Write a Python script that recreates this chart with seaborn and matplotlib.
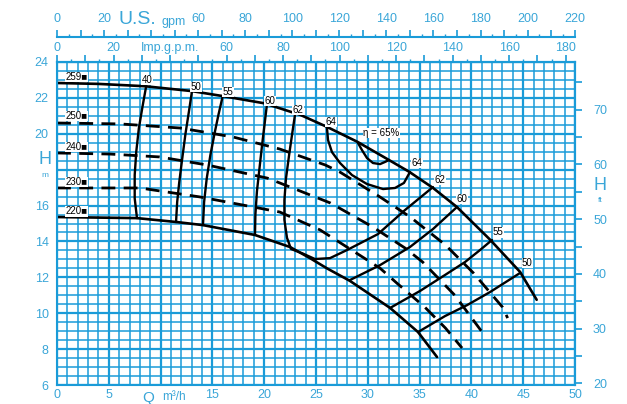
import matplotlib
matplotlib.use("Agg")
import matplotlib.pyplot as plt
from matplotlib.ticker import MultipleLocator, FuncFormatter
import seaborn as sns

# ---- values: Q in m3/h, H in m ----
# impeller diameter curves (solid = 259 and 220, dashed = 250/240/230)
q_259 = [0, 4, 8.5, 13, 16, 20, 23.5, 26, 29, 31.5, 34, 36.3, 38.6, 41.8, 44.7, 46.3]
h_259 = [22.83, 22.78, 22.65, 22.38, 22.1, 21.7, 21.05, 20.4, 19.55, 18.72, 17.88, 16.98, 15.92, 14.1, 12.3, 10.75]

q_220 = [0, 7.72, 11.58, 14.09, 19.11, 22.49, 24.42, 26.06, 28.28, 32.14, 34.85, 36.68]
h_220 = [15.36, 15.3, 15.08, 14.91, 14.36, 13.69, 13.07, 12.5, 11.8, 10.3, 8.95, 7.56]

q_250 = [0, 6.1, 11.9, 17.0, 21.5, 25.9, 27.3, 31.2, 34.1, 37.5, 40.2, 43.0, 43.5]
h_250 = [20.6, 20.55, 20.32, 19.82, 19.15, 18.26, 17.87, 16.47, 15.36, 13.8, 12.24, 10.34, 9.73]

q_240 = [0, 5.1, 9.9, 14.5, 20.3, 21.5, 26.4, 30.5, 33.6, 35.3, 38.4, 41.1]
h_240 = [18.93, 18.87, 18.71, 18.26, 17.53, 17.26, 16.14, 14.8, 13.63, 12.85, 11.0, 8.9]

q_230 = [0, 8.0, 13.8, 21.5, 25.4, 29.2, 31.2, 32.8, 35.5, 37.5, 39.1]
h_230 = [16.98, 16.98, 16.48, 15.64, 14.64, 13.24, 12.5, 11.68, 10.34, 9.17, 8.06]

# efficiency iso-lines
q_e40 = [8.6, 8.25, 7.9, 7.65, 7.5, 7.5, 7.72]
h_e40 = [22.63, 21.5, 20.3, 19.0, 17.7, 16.4, 15.3]

q_e50 = [13.03, 12.75, 12.4, 12.07, 11.8, 11.6, 11.49]
h_e50 = [22.38, 21.3, 20.0, 18.54, 17.3, 16.2, 15.08]

q_e55 = [16.02, 15.6, 15.2, 14.8, 14.45, 14.2, 14.09]
h_e55 = [22.16, 21.1, 20.0, 18.8, 17.5, 16.2, 14.91]

q_e60 = [20.27, 20.05, 19.8, 19.55, 19.3, 19.15, 19.11]
h_e60 = [21.66, 20.6, 19.4, 18.1, 16.8, 15.5, 14.36]

q_e62 = [22.97, 22.7, 22.4, 22.1, 21.95, 21.95, 22.2, 22.59, 23.75, 24.9, 26.35, 27.99, 30.98, 33.59, 36.29]
h_e62 = [21.05, 20.0, 18.8, 17.5, 16.3, 15.2, 14.2, 13.58, 13.32, 13.02, 13.07, 13.52, 14.41, 15.75, 17.03]

q_e64 = [26.06, 26.16, 26.54, 27.32, 28.47, 29.92, 31.47, 32.63, 33.49, 34.07]
h_e64 = [20.32, 19.65, 18.98, 18.37, 17.7, 17.2, 16.92, 16.98, 17.26, 17.87]

q_e65 = [29.05, 29.44, 29.92, 30.5, 31.18, 31.66, 32.05]
h_e65 = [19.49, 19.09, 18.65, 18.37, 18.31, 18.43, 18.54]

q_e60r = [28.28, 31.18, 34.07, 36.29, 38.61]
h_e60r = [11.85, 12.68, 13.69, 14.69, 15.92]

q_e55r = [32.14, 35.04, 37.45, 39.38, 40.83, 41.99]
h_e55r = [10.29, 11.24, 12.13, 12.85, 13.52, 14.08]

q_e50r = [34.85, 37.45, 39.58, 41.8, 44.69]
h_e50r = [8.95, 9.84, 10.45, 11.18, 12.24]

# labels on the curves
eff_labels = ["40", "50", "55", "60", "62", "64", "η = 65%", "64", "62", "60", "55", "50"]
eff_label_q = [8.69, 13.42, 16.5, 20.56, 23.26, 26.45, 31.3, 34.75, 37.0, 39.1, 42.6, 45.4]
eff_label_h = [23.0, 22.61, 22.33, 21.83, 21.32, 20.66, 20.04, 18.37, 17.42, 16.36, 14.52, 12.8]

dia_labels = ["259", "250", "240", "230", "220"]
dia_label_h = [23.16, 20.99, 19.26, 17.31, 15.69]

sns.set_style("white")
plt.rcParams["font.family"] = ["Liberation Sans", "DejaVu Sans"]

BLUE = "#1a9bd8"
TXT = "#3aa6d8"
W, Hpx = 627, 404

fig = plt.figure(figsize=(6.27, 4.04), dpi=100)
ax = fig.add_axes([57 / W, 1 - 385 / Hpx, (575 - 57) / W, (385 - 62) / Hpx])
ax.set_xlim(0, 50)
ax.set_ylim(6, 24)

# grid paper
ax.xaxis.set_major_locator(MultipleLocator(5))
ax.xaxis.set_minor_locator(MultipleLocator(1))
ax.yaxis.set_major_locator(MultipleLocator(2))
ax.yaxis.set_minor_locator(MultipleLocator(0.5))
ax.grid(which="minor", color=BLUE, lw=1.1)
ax.grid(which="major", color=BLUE, lw=1.6)
ax.set_axisbelow(True)
for s in ax.spines.values():
    s.set_color(BLUE)
    s.set_linewidth(1.5)

ax.xaxis.set_major_formatter(FuncFormatter(lambda v, p: "" if v == 10 else f"{v:g}"))
ax.yaxis.set_major_formatter(FuncFormatter(lambda v, p: "" if v == 18 else f"{v:g}"))
ax.tick_params(which="both", length=0, labelcolor=TXT, labelsize=9)
ax.tick_params(axis="x", pad=3)
ax.tick_params(axis="y", pad=6)

line_kw = dict(color="black", sort=False, estimator=None,
               solid_capstyle="round", solid_joinstyle="round")

# diameter curves
solid = [(q_259, h_259), (q_220, h_220)]
dashed = [(q_250, h_250), (q_240, h_240), (q_230, h_230)]
for q, h in solid:
    sns.lineplot(x=q, y=h, ax=ax, lw=1.9, **line_kw)
for q, h in dashed:
    sns.lineplot(x=q, y=h, ax=ax, lw=2.0, linestyle=(0, (5, 3.0)), **line_kw)

# efficiency curves
eff = [(q_e40, h_e40), (q_e50, h_e50), (q_e55, h_e55), (q_e60, h_e60), (q_e62, h_e62),
       (q_e64, h_e64), (q_e65, h_e65), (q_e60r, h_e60r), (q_e55r, h_e55r), (q_e50r, h_e50r)]
for q, h in eff:
    sns.lineplot(x=q, y=h, ax=ax, lw=1.7, **line_kw)

for t, q, h in zip(eff_labels, eff_label_q, eff_label_h):
    ax.text(q, h, t, fontsize=7, ha="center", va="center", color="black",
            bbox=dict(facecolor="white", edgecolor="none", pad=0.3))

for t, h in zip(dia_labels, dia_label_h):
    ax.text(1.9, h, t + "\u25a0", fontsize=7, ha="center", va="center", color="black",
            bbox=dict(facecolor="white", edgecolor="none", pad=0.3))

# Imp. g.p.m. on the top edge
imp = ax.secondary_xaxis("top", functions=(lambda q: q * 3.666, lambda g: g / 3.666))
imp.xaxis.set_major_locator(MultipleLocator(10))
imp.xaxis.set_minor_locator(MultipleLocator(5))
imp.xaxis.set_major_formatter(FuncFormatter(
    lambda v, p: "Imp.g.p.m." if v == 40 else (f"{v:g}" if v % 20 == 0 else "")))
imp.tick_params(which="major", length=5, width=1.2, color=BLUE, labelcolor=TXT, labelsize=9, pad=1)
imp.tick_params(which="minor", length=2.5, width=1.0, color=BLUE)
imp.spines["top"].set_color(BLUE)
imp.spines["top"].set_linewidth(1.5)

# U.S. gpm scale above
us = ax.secondary_xaxis(1.077, functions=(lambda q: q * 4.403, lambda g: g / 4.403))
us.xaxis.set_major_locator(MultipleLocator(10))
us.xaxis.set_minor_locator(MultipleLocator(5))
us.xaxis.set_major_formatter(FuncFormatter(
    lambda v, p: "" if v == 40 else (f"{v:g}" if v % 20 == 0 else "")))
us.tick_params(which="major", length=5, width=1.2, color=BLUE, labelcolor=TXT, labelsize=9, pad=4)
us.tick_params(which="minor", length=2.5, width=1.0, color=BLUE)
us.spines["top"].set_color(BLUE)
us.spines["top"].set_linewidth(1.5)

# feet on the right
ft = ax.secondary_yaxis("right", functions=(lambda h: h * 3.2808, lambda f: f / 3.2808))
ft.yaxis.set_major_locator(MultipleLocator(5))
ft.yaxis.set_major_formatter(FuncFormatter(
    lambda v, p: f"{v:g}" if v % 10 == 0 else ""))
ft.tick_params(which="major", length=5, width=1.2, color=BLUE, labelcolor=TXT, labelsize=9, pad=8)
ft.spines["right"].set_color(BLUE)
ft.spines["right"].set_linewidth(1.5)

# axis names
fig.text(137 / W, 1 - 20 / Hpx, "U.S.", fontsize=14, color=TXT, ha="center", va="center")
fig.text(174 / W, 1 - 22 / Hpx, "gpm", fontsize=9, color=TXT, ha="center", va="center")
fig.text(45 / W, 1 - 160 / Hpx, "H", fontsize=13, color=TXT, ha="center", va="center")
fig.text(45 / W, 1 - 176 / Hpx, "m", fontsize=6, color=TXT, ha="center", va="center")
fig.text(600 / W, 1 - 186 / Hpx, "H", fontsize=13, color=TXT, ha="center", va="center")
fig.text(600 / W, 1 - 201 / Hpx, "ft", fontsize=6, color=TXT, ha="center", va="center")
fig.text(148 / W, 1 - 398 / Hpx, "Q", fontsize=11, color=TXT, ha="center", va="center")
fig.text(174 / W, 1 - 397 / Hpx, "m\u00b3/h", fontsize=8.5, color=TXT, ha="center", va="center")

fig.savefig("out.png", dpi=100, facecolor="white")
